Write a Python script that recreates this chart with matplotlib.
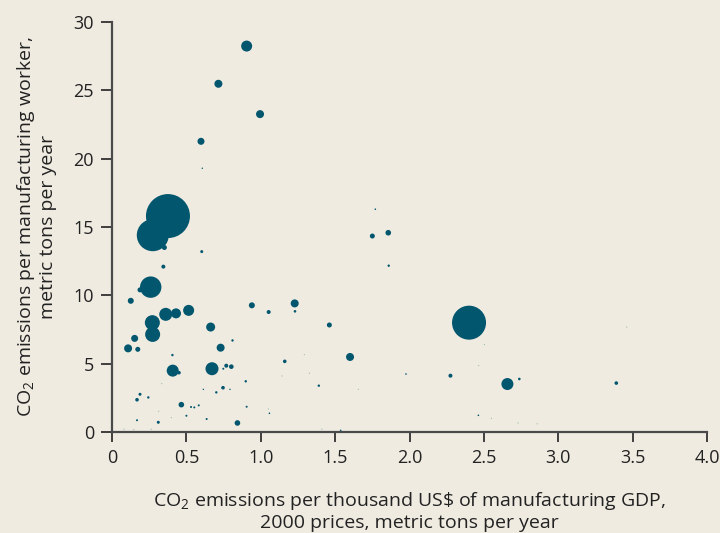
import matplotlib
matplotlib.use("Agg")
import matplotlib.pyplot as plt
import numpy as np

# CO2 per thousand US$ of manufacturing GDP (x), CO2 per manufacturing worker (y),
# bubble radius in pixels
co2_per_gdp = [0.376, 0.274, 0.352, 0.603, 0.345, 0.26, 0.188, 0.126, 0.94, 1.053,
               1.228, 1.23, 1.461, 1.6, 0.361, 0.43, 0.515, 0.271, 0.273, 0.152,
               0.108, 0.173, 0.663, 0.73, 0.81, 0.406, 0.408, 0.45, 0.672, 0.768,
               0.802, 0.748, 1.161, 1.293, 1.327, 1.39, 1.143, 0.334, 0.746, 0.701,
               0.899, 0.793, 0.614, 0.188, 0.168, 0.244, 0.466, 0.531, 0.553, 0.583,
               0.314, 0.905, 0.5, 0.636, 0.399, 0.168, 0.311, 0.843, 0.08, 0.146,
               0.264, 1.05, 1.058, 1.41, 1.537,
               1.77, 1.75, 1.857, 1.86, 2.40, 2.503, 2.465, 3.46, 1.976, 2.275,
               2.658, 2.738, 3.39, 1.656, 2.463, 2.551, 2.73, 2.858,
               0.905, 0.715, 0.995, 0.598, 0.607]
co2_per_worker = [15.8, 14.4, 13.5, 13.2, 12.1, 10.6, 10.4, 9.6, 9.27, 8.78,
                  9.41, 8.83, 7.83, 5.49, 8.61, 8.68, 8.9, 8.0, 7.14, 6.85,
                  6.12, 6.05, 7.68, 6.17, 6.7, 5.63, 4.49, 4.34, 4.63, 4.85,
                  4.78, 4.63, 5.17, 5.66, 4.3, 3.39, 4.1, 3.54, 3.24, 2.9,
                  3.71, 3.12, 3.12, 2.76, 2.36, 2.53, 2.0, 1.83, 1.8, 1.95,
                  1.51, 1.85, 1.19, 0.95, 1.05, 0.86, 0.71, 0.66, 0.2, 0.18,
                  0.2, 1.68, 1.37, 0.2, 0.12,
                  16.3, 14.34, 14.58, 12.17, 8.0, 6.4, 4.86, 7.68, 4.24, 4.12,
                  3.51, 3.88, 3.58, 3.12, 1.22, 1.0, 0.66, 0.6,
                  28.24, 25.48, 23.26, 21.27, 19.3]
radius_px = [22, 16, 2.5, 1.5, 2, 10.7, 2.5, 3, 3, 2,
             4, 1.3, 2.5, 4, 6.5, 5, 5.5, 7.5, 7.5, 3.5,
             4, 2.5, 4.5, 4, 1.2, 1.2, 6, 1.8, 6.5, 2,
             2.3, 1, 1.8, 0.6, 0.6, 1.2, 0.6, 0.6, 1.8, 1.2,
             1.2, 0.7, 0.7, 1.5, 1.8, 1.2, 2.8, 1, 1, 1,
             0.6, 1, 1, 1, 0.6, 1, 1.5, 2.8, 0.6, 0.6,
             0.6, 0.6, 0.8, 0.6, 0.8,
             0.8, 2.5, 2.8, 1.2, 17, 0.6, 0.6, 0.6, 0.8, 2,
             6, 1.3, 1.8, 0.6, 0.8, 0.6, 0.6, 0.6,
             5.5, 4, 4, 3.5, 0.7]

x_ticks = [0, 0.5, 1.0, 1.5, 2.0, 2.5, 3.0, 3.5, 4.0]
x_tick_labels = ["0", "0.5", "1.0", "1.5", "2.0", "2.5", "3.0", "3.5", "4.0"]
y_ticks = [0, 5, 10, 15, 20, 25, 30]

bg = "#efebe1"
teal = "#02566e"

plt.rcParams['font.family'] = ['Open Sans', 'DejaVu Sans']
plt.rcParams['mathtext.fontset'] = 'custom'
plt.rcParams['mathtext.rm'] = 'Open Sans'

fig = plt.figure(figsize=(7.2, 5.33), dpi=100, facecolor=bg)
ax = fig.add_axes([0.1556, 0.1895, 0.8264, 0.7692])
ax.set_facecolor(bg)

r = np.array(radius_px)
sizes = (2 * r * 0.72) ** 2
alphas = np.where(r < 0.7, 0.35, 1.0)
colors = [(0x02 / 255, 0x56 / 255, 0x6e / 255, a) for a in alphas]
ax.scatter(co2_per_gdp, co2_per_worker, s=sizes, c=colors, linewidths=0, zorder=3)

ax.set_xlim(0, 4.0)
ax.set_ylim(0, 30)
ax.set_xticks(x_ticks)
ax.set_xticklabels(x_tick_labels)
ax.set_yticks(y_ticks)

for side in ['top', 'right']:
    ax.spines[side].set_visible(False)
for side in ['left', 'bottom']:
    ax.spines[side].set_color('#4a4a4a')
    ax.spines[side].set_linewidth(1.6)
ax.tick_params(axis='both', colors='#222222', labelsize=13, length=7, width=1.2,
               direction='out', pad=5)
ax.tick_params(axis='y', length=8)

ax.set_xlabel("CO$_2$ emissions per thousand US\\$ of manufacturing GDP,\n2000 prices, metric tons per year",
              fontsize=14, color='#222222', labelpad=17, linespacing=1.1)
ax.set_ylabel("CO$_2$ emissions per manufacturing worker,\nmetric tons per year",
              fontsize=14, color='#222222', labelpad=12, linespacing=1.1)

fig.savefig("out.png", dpi=100, facecolor=bg)
